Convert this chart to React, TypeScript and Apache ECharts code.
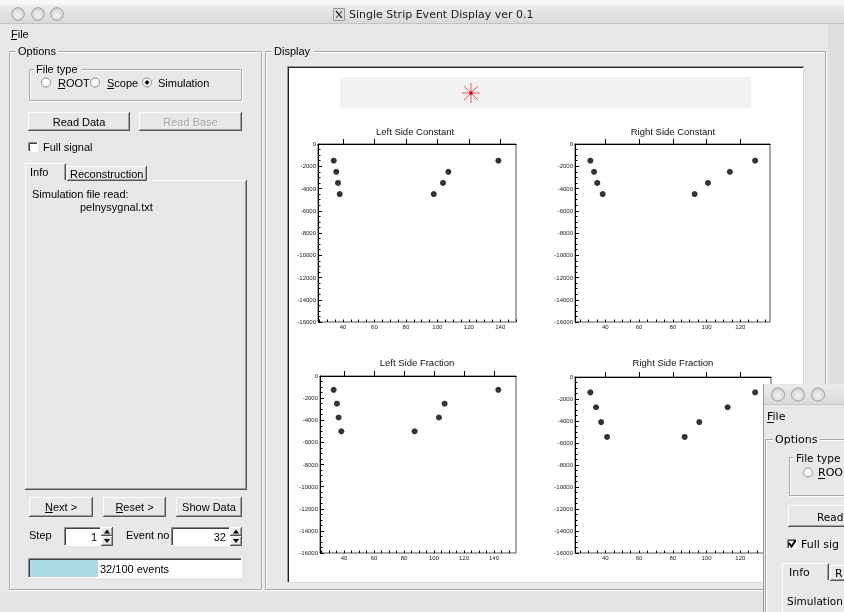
import React, { useEffect, useRef } from "react";
import * as echarts from "echarts";

// ---------- data ----------
const plotTitles = ["Left Side Constant", "Right Side Constant", "Left Side Fraction", "Right Side Fraction"];
const leftConstX = [34.1, 35.7, 36.8, 37.9, 97.7, 103.6, 107.0, 138.8];
const leftConstY = [-1500, -2500, -3500, -4500, -4500, -3500, -2500, -1500];
const rightConstX = [31.1, 33.3, 35.2, 38.4, 92.9, 100.8, 113.8, 128.8];
const rightConstY = [-1500, -2500, -3500, -4500, -4500, -3500, -2500, -1500];
const leftFracX = [33.1, 35.3, 36.4, 38.2, 87.1, 103.3, 107.1, 142.9];
const leftFracY = [-1250, -2500, -3750, -5000, -5000, -3750, -2500, -1250];
const rightFracX = [31.1, 34.5, 37.5, 41.0, 87.0, 95.7, 112.5, 128.8];
const rightFracY = [-1400, -2750, -4100, -5450, -5450, -4100, -2750, -1400];
const xMins = [24.1, 22.0, 24.0, 22.0];
const xMaxs = [150.0, 137.6, 154.7, 138.2];
const xLabelsWide = [40, 60, 80, 100, 120, 140];
const xLabelsNarrow = [40, 60, 80, 100, 120];
const xMinorStep = 5;
const yMin = -16000;
const yMax = 0;
const yStep = 2000;

const windowTitle = "Single Strip Event Display ver 0.1";
const infoLines = ["Simulation file read:", "pelnysygnal.txt"];
const stepValue = "1";
const eventNo = "32";
const progressText = "32/100 events";
const progressFraction = 32 / 100;
// texts of the second window as far as they are visible at the picture's edge
const overlayTexts = { fileType: "File type", root: "ROO", read: "Read", full: "Full sig", recon: "R", sim: "Simulation" };

// ---------- layout ----------
const gridBoxes = [
  { left: 318, top: 144, width: 198, height: 178 },
  { left: 575, top: 144, width: 195, height: 178 },
  { left: 320, top: 376, width: 196, height: 177 },
  { left: 575, top: 377, width: 196, height: 176 },
];
const titlePos = [
  [415, 126],
  [673, 126],
  [417, 357],
  [673, 357],
];

const BG = "#e8e8e8";
const SANS = '"Liberation Sans", Arial, Helvetica, sans-serif';
const DJV = '"DejaVu Sans", sans-serif';

function buildGraphics() {
  const els: any[] = [];
  const R = (x: number, y: number, w: number, h: number, fill: any, z: number, extra: any = {}) =>
    els.push({ type: "rect", shape: { x, y, width: w, height: h }, style: { fill, ...extra }, z, silent: true });
  const L = (x1: number, y1: number, x2: number, y2: number, stroke: string, z: number, lw = 1) =>
    els.push({ type: "line", shape: { x1, y1, x2, y2 }, style: { stroke, lineWidth: lw }, z, silent: true });
  const T = (x: number, y: number, text: string, z: number, o: any = {}) =>
    els.push({
      type: "text",
      x,
      y,
      style: {
        text,
        fill: o.fill || "#000",
        font: o.font || `11px ${SANS}`,
        align: o.align || "left",
        verticalAlign: "middle",
      },
      z,
      silent: true,
    });
  const C = (cx: number, cy: number, r: number, fill: any, stroke: string, z: number) =>
    els.push({ type: "circle", shape: { cx, cy, r }, style: { fill, stroke, lineWidth: 1 }, z, silent: true });
  const raised = (x: number, y: number, w: number, h: number, z: number) => {
    R(x, y, w, h, BG, z);
    L(x + 0.5, y + 0.5, x + w - 1, y + 0.5, "#ffffff", z + 0.1);
    L(x + 0.5, y + 0.5, x + 0.5, y + h - 1, "#ffffff", z + 0.1);
    L(x + w - 0.5, y, x + w - 0.5, y + h, "#555555", z + 0.1);
    L(x, y + h - 0.5, x + w, y + h - 0.5, "#555555", z + 0.1);
    L(x + w - 1.5, y + 1, x + w - 1.5, y + h - 1, "#a0a0a0", z + 0.1);
    L(x + 1, y + h - 1.5, x + w - 1, y + h - 1.5, "#a0a0a0", z + 0.1);
  };
  const sunken = (x: number, y: number, w: number, h: number, fill: string, z: number) => {
    R(x, y, w, h, fill, z);
    L(x + 0.5, y + 0.5, x + w, y + 0.5, "#8a8a8a", z + 0.1);
    L(x + 0.5, y + 0.5, x + 0.5, y + h, "#8a8a8a", z + 0.1);
    L(x + 1.5, y + 1.5, x + w - 1, y + 1.5, "#404040", z + 0.1);
    L(x + 1.5, y + 1.5, x + 1.5, y + h - 1, "#404040", z + 0.1);
    L(x + w - 0.5, y, x + w - 0.5, y + h, "#ffffff", z + 0.1);
    L(x, y + h - 0.5, x + w, y + h - 0.5, "#ffffff", z + 0.1);
  };
  const etched = (x: number, y: number, w: number, h: number, z: number) => {
    R(x + 1.5, y + 1.5, w, h, "none", z, { stroke: "#ffffff", lineWidth: 1 });
    R(x + 0.5, y + 0.5, w, h, "none", z + 0.05, { stroke: "#a8a8a8", lineWidth: 1 });
  };
  const label = (x: number, y: number, w: number, text: string, z: number, font?: string) => {
    R(x - 2, y - 6, w + 4, 12, BG, z);
    T(x, y, text, z + 0.1, font ? { font } : {});
  };
  const tbGrad = {
    type: "linear",
    x: 0,
    y: 0,
    x2: 0,
    y2: 1,
    colorStops: [
      { offset: 0, color: "#ececec" },
      { offset: 1, color: "#d8d8d8" },
    ],
  };
  const btnGrad = {
    type: "radial",
    x: 0.5,
    y: 0.6,
    r: 0.6,
    colorStops: [
      { offset: 0, color: "#f4f4f4" },
      { offset: 1, color: "#d0d0d0" },
    ],
  };

  // page + main window
  R(0, 0, 844, 612, BG, -40);
  R(0, 0, 844, 5, "#f7f7f7", -39);
  R(0, 5, 844, 19, tbGrad, -39);
  L(0, 23.5, 844, 23.5, "#c4c4c4", -38);
  R(828, 24, 16, 588, "#dedede", -39);
  R(0, 592, 828, 20, "#e3e3e3", -39);
  [18, 38, 57].forEach((cx) => C(cx, 14, 6.3, btnGrad, "#9c9c9c", -38));
  // X11 icon + title
  R(333.5, 8.5, 11, 12, "#e0e0e0", -38, { stroke: "#9a9a9a", lineWidth: 1 });
  L(336, 11, 342, 18, "#333", -37, 1.5);
  L(342, 11, 336, 18, "#333", -37, 1);
  T(349, 14.5, windowTitle, -37, { font: `11px ${DJV}`, fill: "#222" });
  // menu
  T(11, 33.5, "File", -37);
  L(11, 39.5, 17, 39.5, "#000", -37);

  // Options frame
  etched(9, 51, 252, 538, -36);
  label(18, 51, 38, "Options", -35);
  // Display frame
  etched(265, 51, 560, 538, -36);
  label(274, 51, 38, "Display", -35);

  // File type group
  etched(29, 69, 212, 31, -34);
  label(36, 69, 44, "File type", -33);
  [46, 95, 147].forEach((cx) => C(cx, 82.5, 4.5, "#ffffff", "#858585", -33));
  C(147, 82.5, 1.6, "#000", "#000", -32);
  T(58, 82.5, "ROOT", -32);
  L(58, 88.5, 65, 88.5, "#000", -32);
  T(107, 82.5, "Scope", -32);
  L(107, 88.5, 114, 88.5, "#000", -32);
  T(158, 82.5, "Simulation", -32);

  // Read buttons
  raised(28, 112, 102, 19, -34);
  T(79, 121.5, "Read Data", -33, { align: "center" });
  raised(139, 112, 103, 19, -34);
  T(191.5, 122.5, "Read Base", -33, { align: "center", fill: "#ffffff" });
  T(190.5, 121.5, "Read Base", -32.9, { align: "center", fill: "#a0a0a0" });

  // Full signal
  sunken(28, 142, 10, 10, "#ffffff", -34);
  T(43, 147, "Full signal", -33);

  // Tabs
  R(25, 180, 222, 310, BG, -34);
  L(25.5, 180.5, 246, 180.5, "#ffffff", -33.9);
  L(25.5, 180.5, 25.5, 489, "#ffffff", -33.9);
  L(246.5, 180, 246.5, 490, "#555555", -33.9);
  L(245.5, 181, 245.5, 489, "#a0a0a0", -33.9);
  L(25, 489.5, 247, 489.5, "#555555", -33.9);
  L(26, 488.5, 246, 488.5, "#a0a0a0", -33.9);
  raised(67, 166, 80, 15, -33.8);
  T(70, 173.5, "Reconstruction", -33.5);
  R(25, 163, 41, 19, BG, -33.7);
  L(25.5, 163.5, 65, 163.5, "#ffffff", -33.6);
  L(25.5, 163.5, 25.5, 181, "#ffffff", -33.6);
  L(65.5, 163.5, 65.5, 180, "#555555", -33.6);
  L(64.5, 164.5, 64.5, 180, "#a0a0a0", -33.6);
  T(30, 172, "Info", -33.5);
  T(32, 193.5, infoLines[0], -33.5);
  T(80, 206.5, infoLines[1], -33.5);

  // Buttons
  raised(29, 497, 64, 20, -34);
  T(61, 506.5, "Next >", -33, { align: "center" });
  L(45, 512.5, 53, 512.5, "#000", -33);
  raised(103, 497, 63, 20, -34);
  T(134.5, 506.5, "Reset >", -33, { align: "center" });
  L(116, 512.5, 123, 512.5, "#000", -33);
  raised(176, 497, 66, 20, -34);
  T(209, 506.5, "Show Data", -33, { align: "center" });

  // Step / Event no
  const spin = (x: number, y: number) => {
    raised(x, y, 12, 9, -33.8);
    raised(x, y + 9, 12, 10, -33.8);
    els.push({ type: "polygon", shape: { points: [[x + 3, y + 6.5], [x + 9, y + 6.5], [x + 6, y + 2.5]] }, style: { fill: "#000" }, z: -33.5, silent: true });
    els.push({ type: "polygon", shape: { points: [[x + 3, y + 12], [x + 9, y + 12], [x + 6, y + 16]] }, style: { fill: "#000" }, z: -33.5, silent: true });
  };
  T(29, 535, "Step", -33);
  sunken(64, 527, 37, 19, "#ffffff", -34);
  T(97, 536.5, stepValue, -33, { align: "right" });
  spin(101, 527);
  T(126, 535, "Event no", -33);
  sunken(171, 527, 59, 19, "#ffffff", -34);
  T(226, 536.5, eventNo, -33, { align: "right" });
  spin(230, 527);

  // Progress bar
  sunken(28, 558, 214, 20, "#ffffff", -34);
  R(30, 560, Math.round(212 * progressFraction), 17, "#add8e6", -33.5);
  T(100, 568.5, progressText, -33);

  // Canvas
  R(288, 67, 515, 515, "#ffffff", -30);
  L(287.5, 66, 287.5, 582, "#9a9a9a", -29);
  L(287, 66.5, 804, 66.5, "#9a9a9a", -29);
  L(288.5, 67, 288.5, 582, "#222222", -29);
  L(288, 67.5, 803, 67.5, "#222222", -29);
  L(803.5, 67, 803.5, 583, "#d8d8d8", -29);
  L(288, 582.5, 804, 582.5, "#d8d8d8", -29);
  R(340, 77, 411, 31, "#f2f2f2", -28);
  const ac = [471, 93];
  L(ac[0], ac[1] - 10, ac[0], ac[1] + 10, "#ff4f4f", -27);
  L(ac[0] - 9, ac[1], ac[0] + 9, ac[1], "#ff4f4f", -27);
  L(ac[0] - 7, ac[1] - 7, ac[0] + 7, ac[1] + 7, "#ff4f4f", -27);
  L(ac[0] - 7, ac[1] + 7, ac[0] + 7, ac[1] - 7, "#ff4f4f", -27);
  C(ac[0], ac[1], 1.2, "#c00000", "#c00000", -26.9);

  // ---------- second overlapping window ----------
  const oz = 20;
  const of = `11px ${DJV}`;
  R(764, 384, 80, 228, BG, oz);
  L(763.5, 384, 763.5, 612, "#9a9a9a", oz + 0.1);
  R(764, 385, 80, 20, tbGrad, oz + 0.1);
  L(764, 404.5, 844, 404.5, "#c4c4c4", oz + 0.2);
  [778, 798, 818].forEach((cx) => C(cx, 394.5, 6.5, btnGrad, "#9c9c9c", oz + 0.3));
  T(767, 416.5, "File", oz + 0.3, { font: of });
  L(767, 422.5, 774, 422.5, "#000", oz + 0.3);
  // Options frame (open on the right/bottom)
  const oy = 439.5;
  L(766.5, oy + 1, 766.5, 612, "#ffffff", oz + 0.2);
  L(765.5, oy, 765.5, 612, "#a8a8a8", oz + 0.25);
  L(766, oy + 1, 844, oy + 1, "#ffffff", oz + 0.2);
  L(765, oy, 844, oy, "#a8a8a8", oz + 0.25);
  label(775, oy, 43, "Options", oz + 0.3, of);
  // File type frame
  L(790.5, 458, 790.5, 496, "#ffffff", oz + 0.2);
  L(789.5, 457, 789.5, 495, "#a8a8a8", oz + 0.25);
  L(790, 458.5, 844, 458.5, "#ffffff", oz + 0.2);
  L(789, 457.5, 844, 457.5, "#a8a8a8", oz + 0.25);
  L(790, 496.5, 844, 496.5, "#ffffff", oz + 0.2);
  L(789, 495.5, 844, 495.5, "#a8a8a8", oz + 0.25);
  R(794, 451.5, 50, 12, BG, oz + 0.3);
  T(796, 457.5, overlayTexts.fileType, oz + 0.35, { font: `10.5px ${DJV}` });
  C(808, 472.5, 4.5, "#ffffff", "#858585", oz + 0.3);
  T(818, 472.5, overlayTexts.root, oz + 0.3, { font: of });
  L(818, 478.5, 825, 478.5, "#000", oz + 0.3);
  raised(788, 505, 70, 22, oz + 0.3);
  T(817, 516.5, overlayTexts.read, oz + 0.5, { font: `10.5px ${DJV}` });
  sunken(787, 539, 10, 10, "#ffffff", oz + 0.3);
  els.push({ type: "polyline", shape: { points: [[789, 543], [791.5, 546.5], [795.5, 540.5]] }, style: { stroke: "#000", lineWidth: 2, fill: "none" }, z: oz + 0.6, silent: true });
  T(801, 544.5, overlayTexts.full, oz + 0.3, { font: of });
  // tabs
  L(782.5, 580.5, 844, 580.5, "#ffffff", oz + 0.3);
  L(782.5, 580.5, 782.5, 612, "#ffffff", oz + 0.3);
  raised(830, 565, 60, 16, oz + 0.35);
  T(835, 573.5, overlayTexts.recon, oz + 0.5, { font: of });
  R(782, 563, 47, 19, BG, oz + 0.4);
  L(782.5, 563.5, 828, 563.5, "#ffffff", oz + 0.45);
  L(782.5, 563.5, 782.5, 612, "#ffffff", oz + 0.45);
  L(828.5, 563.5, 828.5, 580, "#555555", oz + 0.45);
  L(827.5, 564.5, 827.5, 580, "#a0a0a0", oz + 0.45);
  T(789, 572.5, "Info", oz + 0.5, { font: of });
  T(787, 600.5, overlayTexts.sim, oz + 0.5, { font: `10.5px ${DJV}` });

  return els;
}

function minorValues(min: number, max: number) {
  const out: number[] = [];
  for (let v = Math.ceil(min / xMinorStep) * xMinorStep; v <= max; v += xMinorStep) out.push(v);
  return out;
}

export default function App() {
  const ref = useRef<HTMLDivElement>(null);
  useEffect(() => {
    if (!ref.current) return;
    const chart = echarts.init(ref.current, undefined, { renderer: "svg" });
    const plotData = [
      [leftConstX, leftConstY],
      [rightConstX, rightConstY],
      [leftFracX, leftFracY],
      [rightFracX, rightFracY],
    ];
    const labelSets = [xLabelsWide, xLabelsNarrow, xLabelsWide, xLabelsNarrow];
    const axisFont = { fontSize: 6, color: "#222", fontFamily: SANS };
    const xAxes: any[] = [];
    const yAxes: any[] = [];
    gridBoxes.forEach((_, i) => {
      const lbls = labelSets[i].filter((v) => v >= xMins[i] && v <= xMaxs[i]);
      xAxes.push({
        gridIndex: i,
        type: "value",
        position: "bottom",
        min: xMins[i],
        max: xMaxs[i],
        axisLine: { show: true, lineStyle: { color: "#000", width: 1 } },
        axisTick: { show: true, inside: true, length: 5, customValues: lbls, lineStyle: { color: "#000" } },
        axisLabel: { show: true, customValues: lbls, margin: 2, formatter: (v: number) => String(v), ...axisFont },
        splitLine: { show: false },
      });
      xAxes.push({
        gridIndex: i,
        type: "value",
        position: "bottom",
        offset: 0,
        min: xMins[i],
        max: xMaxs[i],
        axisLine: { show: false },
        axisTick: { show: true, inside: true, length: 2.5, customValues: minorValues(xMins[i], xMaxs[i]), lineStyle: { color: "#000" } },
        axisLabel: { show: false },
        splitLine: { show: false },
      });
      yAxes.push({
        gridIndex: i,
        type: "value",
        min: yMin,
        max: yMax,
        interval: yStep,
        axisLine: { show: true, lineStyle: { color: "#000", width: 1 } },
        axisTick: { show: true, inside: true, length: 4, lineStyle: { color: "#000" } },
        minorTick: { show: true, splitNumber: 4, length: 2.5, lineStyle: { color: "#000" } },
        axisLabel: { margin: 2, formatter: (v: number) => String(v), ...axisFont },
        splitLine: { show: false },
        minorSplitLine: { show: false },
      });
    });
    chart.setOption({
      animation: false,
      backgroundColor: "transparent",
      title: plotTitles.map((t, i) => ({
        text: t,
        left: titlePos[i][0],
        top: titlePos[i][1],
        textAlign: "center",
        padding: 0,
        textStyle: { fontSize: 9.5, fontWeight: "normal", color: "#111", fontFamily: SANS },
      })),
      grid: gridBoxes.map((g) => ({
        ...g,
        show: true,
        borderColor: "#555",
        borderWidth: 1,
        backgroundColor: "transparent",
        containLabel: false,
      })),
      xAxis: xAxes,
      yAxis: yAxes,
      series: plotData.map(([xs, ys], i) => ({
        type: "scatter",
        xAxisIndex: 2 * i,
        yAxisIndex: i,
        data: xs.map((x, k) => [x, ys[k]]),
        symbol: "circle",
        symbolSize: 6,
        itemStyle: { color: "#000" },
        silent: true,
      })),
      graphic: { elements: buildGraphics() },
    });
    return () => chart.dispose();
  }, []);
  return <div ref={ref} style={{ position: "fixed", left: 0, top: 0, width: 844, height: 612 }} />;
}
